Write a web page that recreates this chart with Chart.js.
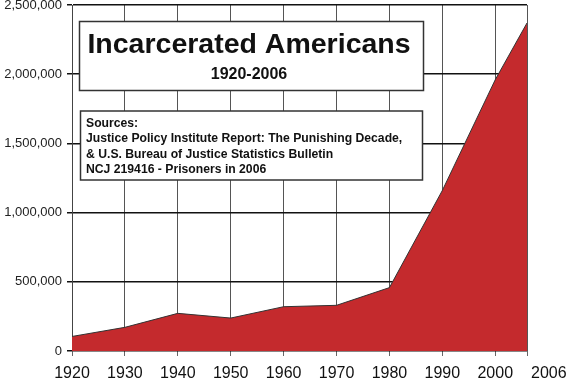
<!DOCTYPE html>
<html>
<head>
<meta charset="utf-8">
<script src="https://cdn.jsdelivr.net/npm/chart.js@4"></script>
<style>
  html, body { margin: 0; padding: 0; background: #fff; }
  #wrap { width: 570px; height: 382px; }
</style>
</head>
<body>
<div id="wrap"><canvas id="prisonChart" width="570" height="382"></canvas></div>
<script>
// Incarcerated Americans, 1920-2006
const years = [1920, 1930, 1940, 1950, 1960, 1970, 1980, 1990, 2000, 2006];
const inmates = [105000, 171000, 272000, 238000, 320000, 330000, 458000, 1160000, 1960000, 2370000];
const xTicks = [1920, 1930, 1940, 1950, 1960, 1970, 1980, 1990, 2000, 2006];
const yTicks = [0, 500000, 1000000, 1500000, 2000000, 2500000];

const titleLines = ['Incarcerated Americans', '1920-2006'];
const sourceLines = [
    'Sources:',
    'Justice Policy Institute Report: The Punishing Decade,',
    '& U.S. Bureau of Justice Statistics Bulletin',
    'NCJ 219416 - Prisoners in 2006'
];

const FONT = '"Liberation Sans", Arial, sans-serif';
const lastTick = xTicks[xTicks.length - 1];

// draws the title box, the sources box and the last x label (set off to the right)
const boxesPlugin = {
    id: 'boxes',
    afterDraw(chart) {
        const ctx = chart.ctx;
        const left = chart.chartArea.left;
        const top = chart.chartArea.top;

        function box(x, y, w, h) {
            ctx.save();
            ctx.fillStyle = '#fff';
            ctx.fillRect(x, y, w, h);
            ctx.strokeStyle = '#333';
            ctx.lineWidth = 1.5;
            ctx.strokeRect(x, y, w, h);
            ctx.restore();
        }

        // title
        box(left + 7.5, top + 16.5, 344, 69);
        ctx.save();
        ctx.fillStyle = '#111';
        ctx.textAlign = 'center';
        ctx.textBaseline = 'alphabetic';
        ctx.font = 'bold 28.5px ' + FONT;
        ctx.fillText(titleLines[0], left + 177, top + 48);
        ctx.font = 'bold 16px ' + FONT;
        ctx.fillText(titleLines[1], left + 177, top + 73.5);
        ctx.restore();

        // sources
        box(left + 8.5, top + 106, 342, 69);
        ctx.save();
        ctx.fillStyle = '#111';
        ctx.textAlign = 'left';
        ctx.font = 'bold 12.2px ' + FONT;
        sourceLines.forEach((line, i) => {
            ctx.fillText(line, left + 14, top + 122 + i * 15.3);
        });
        ctx.restore();

        // 2006 label sits to the right of its tick
        const xs = chart.scales.x;
        ctx.save();
        ctx.fillStyle = '#111';
        ctx.textAlign = 'left';
        ctx.font = '16px ' + FONT;
        ctx.fillText(String(lastTick), xs.getPixelForValue(lastTick) + 4, chart.chartArea.bottom + 27);
        ctx.restore();
    }
};

new Chart(document.getElementById('prisonChart').getContext('2d'), {
    type: 'line',
    data: {
        datasets: [{
            label: 'Incarcerated Americans',
            data: years.map((y, i) => ({ x: y, y: inmates[i] })),
            fill: 'origin',
            backgroundColor: '#C42A2D',
            borderColor: '#333',
            borderWidth: 1,
            pointRadius: 0,
            tension: 0
        }]
    },
    options: {
        responsive: false,
        animation: false,
        events: [],
        layout: {
            padding: { left: 0, right: 43, top: 5, bottom: 0 }
        },
        plugins: {
            legend: { display: false },
            tooltip: { enabled: false }
        },
        scales: {
            x: {
                type: 'linear',
                min: 1920,
                max: 2006,
                afterBuildTicks: scale => {
                    scale.ticks = xTicks.map(v => ({ value: v }));
                },
                afterFit: scale => {
                    scale.height = 31;
                    scale.paddingLeft = 0;
                    scale.paddingRight = 0;
                },
                grid: {
                    color: '#555',
                    lineWidth: 1,
                    tickLength: 5,
                    tickColor: '#666'
                },
                border: { display: false },
                ticks: {
                    autoSkip: false,
                    maxRotation: 0,
                    padding: 8,
                    color: '#111',
                    font: { family: FONT, size: 16 },
                    callback: v => (v === lastTick ? '' : String(v))
                }
            },
            y: {
                min: 0,
                max: 2500000,
                afterBuildTicks: scale => {
                    scale.ticks = yTicks.map(v => ({ value: v }));
                },
                afterFit: scale => {
                    scale.width = 72;
                    scale.paddingTop = 0;
                    scale.paddingBottom = 0;
                },
                grid: {
                    color: '#111',
                    lineWidth: 1.5,
                    tickLength: 5,
                    tickColor: '#111'
                },
                border: { display: true, color: '#444', width: 1 },
                ticks: {
                    padding: 5,
                    color: '#222',
                    font: { family: FONT, size: 13 },
                    callback: v => v.toLocaleString('en-US')
                }
            }
        }
    },
    plugins: [boxesPlugin]
});
</script>
</body>
</html>
